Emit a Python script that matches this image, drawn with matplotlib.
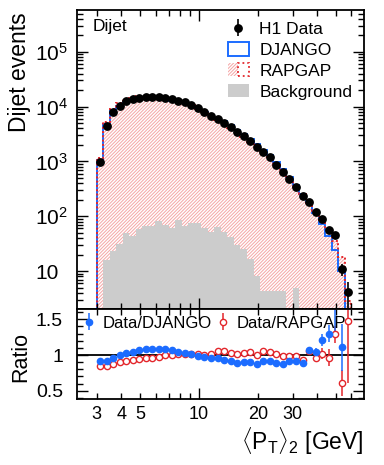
import numpy as np
import matplotlib
matplotlib.use('Agg')
import matplotlib.pyplot as plt
from matplotlib.ticker import FixedLocator, LogLocator, FuncFormatter, MultipleLocator, NullFormatter
from matplotlib.patches import Patch
from matplotlib.legend_handler import HandlerTuple

plt.rcParams['font.family'] = ['Liberation Sans', 'DejaVu Sans']
plt.rcParams['mathtext.fontset'] = 'custom'
plt.rcParams['mathtext.rm'] = 'Liberation Sans'
plt.rcParams['mathtext.it'] = 'Liberation Sans:italic'
plt.rcParams['hatch.linewidth'] = 0.7

# bin edges in <pT>_2 [GeV] (log-spaced bins)
edges = [3.00, 3.24, 3.50, 3.78, 4.08, 4.40, 4.76, 5.14, 5.55, 5.99,
         6.47, 6.98, 7.54, 8.14, 8.79, 9.50, 10.25, 11.07, 11.96, 12.91,
         13.94, 15.06, 16.26, 17.56, 18.96, 20.47, 22.11, 23.87, 25.78, 27.84,
         30.06, 32.46, 35.05, 37.85, 40.87, 44.13, 47.66, 51.46, 55.57, 60.00]

# H1 data (events per bin)
data = [990, 4480, 7870, 10400, 12500, 13600, 14500, 14950, 14950, 14800,
        14370, 13600, 12800, 11970, 10840, 9330, 7940, 6820, 5940, 5020,
        4190, 3400, 2870, 2330, 1810, 1470, 1190, 860, 632, 477,
        336, 231, 184, 121, 89, 56, 45, 10.9, 4.1]
data_err = [15, 30, 40, 50, 55, 60, 60, 60, 60, 60,
            60, 60, 55, 55, 50, 45, 40, 40, 35, 30,
            30, 25, 25, 20, 18, 16, 14, 12, 10, 9,
            8, 8, 8, 7, 7, 6, 6, 2.8, 2.3]

# MC predictions
django = [1076, 4870, 8200, 10400, 12140, 13010, 13550, 13840, 13840, 13700,
          13240, 12710, 12250, 11680, 10730, 9420, 8140, 7070, 6190, 5430,
          4580, 3800, 3190, 2590, 2080, 1615, 1308, 961, 722, 524,
          369, 258, 173, 116, 73.6, 43, 23.7, 9.8, 0]
rapgap = [1165, 5300, 8940, 11560, 13590, 14550, 15340, 15650, 15490, 15260,
          14370, 13600, 12670, 11850, 10730, 9240, 7940, 6750, 5630, 4760,
          4050, 3350, 2770, 2230, 1810, 1393, 1139, 847, 638, 484,
          339, 250, 174, 127, 87, 58, 35, 17.9, 2.8]
background = [0, 16, 23.5, 31, 48.7, 44, 58, 65, 67, 82,
              69, 60, 86, 67, 74, 74, 60, 51, 63, 51,
              41, 30, 25, 16.5, 8.2, 4.4, 4.4, 4.4, 4.4, 0,
              4.8, 0, 0, 0, 0, 0, 0, 0, 0]

# ratio panel
ratio_django = [0.92, 0.92, 0.96, 1.0, 1.03, 1.045, 1.07, 1.08, 1.08, 1.08,
                1.085, 1.07, 1.045, 1.025, 1.01, 0.99, 0.975, 0.965, 0.96, 0.925,
                0.915, 0.895, 0.9, 0.9, 0.87, 0.91, 0.91, 0.895, 0.875, 0.91,
                0.91, 0.895, 1.065, 1.045, 1.21, 1.3, 1.9, 1.11, np.nan]
ratio_django_err = [0.015, 0.01, 0.01, 0.01, 0.01, 0.01, 0.01, 0.01, 0.01, 0.01,
                    0.01, 0.01, 0.01, 0.01, 0.01, 0.01, 0.01, 0.01, 0.01, 0.01,
                    0.01, 0.01, 0.01, 0.01, 0.012, 0.014, 0.015, 0.016, 0.018, 0.02,
                    0.025, 0.035, 0.045, 0.06, 0.09, 0.12, 0.62, 0.33, np.nan]
ratio_rapgap = [0.85, 0.845, 0.88, 0.9, 0.92, 0.935, 0.945, 0.955, 0.965, 0.97,
                1.0, 1.0, 1.01, 1.01, 1.01, 1.01, 1.0, 1.01, 1.055, 1.055,
                1.035, 1.015, 1.035, 1.045, 1.0, 1.055, 1.045, 1.015, 0.99, 0.985,
                0.99, 0.925, 1.055, 0.955, 1.02, 0.96, 1.29, 0.61, 1.48]
ratio_rapgap_err = [0.015, 0.01, 0.01, 0.01, 0.01, 0.01, 0.01, 0.01, 0.01, 0.01,
                    0.01, 0.01, 0.01, 0.01, 0.01, 0.01, 0.01, 0.01, 0.01, 0.01,
                    0.01, 0.01, 0.01, 0.01, 0.012, 0.014, 0.015, 0.016, 0.018, 0.02,
                    0.025, 0.035, 0.045, 0.055, 0.08, 0.12, 0.12, 0.18, 0.87]

blue = '#1c6cff'
red = '#e3262b'
hatch_col = '#f4a6a6'
grey = '#cccccc'

centers = np.sqrt(np.array(edges[:-1]) * np.array(edges[1:]))
base = 1e-2  # below the visible range of the log axis

fig = plt.figure(figsize=(3.84, 4.65), dpi=100)
ax = fig.add_axes([0.2005, 0.3348, 0.7474, 0.6437])
rax = fig.add_axes([0.2005, 0.1413, 0.7474, 0.1935], sharex=ax)

# ---- top panel
ax.stairs(np.clip(rapgap, base, None), edges, baseline=base, fill=True,
          facecolor='none', edgecolor=hatch_col, hatch='//////////', linewidth=0)
ax.stairs(np.clip(background, base, None), edges, baseline=base, fill=True,
          color=grey, linewidth=0)
ax.stairs(np.clip(django, base, None), edges, baseline=base, color=blue, linewidth=1.4)
ax.stairs(np.clip(rapgap, base, None), edges, baseline=base, color=red,
          linewidth=1.4, linestyle=(0, (1.0, 1.2)))
hdata = ax.errorbar(centers, data, yerr=data_err, fmt='o', color='k', ms=5.3,
                    elinewidth=1.2, capsize=0)

ax.set_xscale('log')
ax.set_yscale('log')
ax.set_xlim(2.38, 69.5)
ax.set_ylim(2.0, 5.8e5)

ax.yaxis.set_major_locator(FixedLocator([10, 1e2, 1e3, 1e4, 1e5]))
ax.yaxis.set_major_formatter(FuncFormatter(
    lambda v, p: '10' if v == 10 else r'$\mathregular{10^{%d}}$' % round(np.log10(v))))
ax.yaxis.set_minor_locator(LogLocator(base=10, subs=np.arange(2, 10), numticks=20))
ax.yaxis.set_minor_formatter(NullFormatter())

ax.xaxis.set_major_locator(FixedLocator([10]))
ax.xaxis.set_minor_locator(FixedLocator([3, 4, 5, 6, 7, 8, 9, 20, 30, 40, 50, 60]))
ax.xaxis.set_major_formatter(FuncFormatter(lambda v, p: '%g' % v))
ax.xaxis.set_minor_formatter(FuncFormatter(
    lambda v, p: '%g' % v if round(v) in (3, 4, 5, 20, 30) else ''))

for a in (ax, rax):
    a.tick_params(which='both', direction='in', top=True, right=True, width=1)
    a.tick_params(which='major', length=8, labelsize=13)
    a.tick_params(which='minor', length=4, labelsize=13)
    for s in a.spines.values():
        s.set_linewidth(1.3)

ax.tick_params(axis='x', which='both', labelbottom=False)
ax.tick_params(axis='y', which='major', pad=30, labelsize=15)
plt.setp(ax.get_yticklabels(), ha='left')

ax.set_ylabel('Dijet events', fontsize=16.5, ha='right')
ax.yaxis.set_label_coords(-0.160, 0.993)
ax.text(0.055, 0.945, 'Dijet', transform=ax.transAxes, fontsize=12.5, va='center')

rap_handle = (Patch(facecolor='white', edgecolor=hatch_col, hatch='//////////', linewidth=0),
              Patch(facecolor='none', edgecolor=red, linestyle=':', linewidth=1.3))
handles = [hdata,
           Patch(facecolor='white', edgecolor=blue, linewidth=1.4),
           rap_handle,
           Patch(facecolor=grey, edgecolor='none')]
labels = ['H1 Data', 'DJANGO', 'RAPGAP', 'Background']
ax.legend(handles, labels, loc='upper left', bbox_to_anchor=(0.526, 0.962),
          frameon=False, fontsize=12.5, handlelength=1.2, handleheight=0.8,
          handletextpad=0.6, labelspacing=0.3, borderpad=0, borderaxespad=0,
          handler_map={tuple: HandlerTuple(ndivide=None, pad=0)})

# ---- ratio panel
rax.axhline(1, color='k', linewidth=1.3)
hrg = rax.errorbar(centers, ratio_rapgap, yerr=ratio_rapgap_err, fmt='o', color=red,
                   mfc='white', mec=red, ms=4.5, mew=1, elinewidth=1.1, capsize=0)
hdj = rax.errorbar(centers, ratio_django, yerr=ratio_django_err, fmt='o', color=blue,
                   ms=4.5, elinewidth=1.1, capsize=0)
rax.set_ylim(0.38, 1.64)
rax.yaxis.set_major_locator(FixedLocator([0.5, 1, 1.5]))
rax.yaxis.set_major_formatter(FuncFormatter(lambda v, p: '%g' % v))
rax.yaxis.set_minor_locator(MultipleLocator(0.1))
rax.tick_params(axis='y', which='major', pad=10, labelsize=14)
rax.tick_params(axis='x', which='both', pad=5)

rax.set_ylabel('Ratio', fontsize=15.5)
rax.yaxis.set_label_coords(-0.160, 0.47)
rax.set_xlabel(r'$\langle\mathrm{P}_{\mathrm{T}}\rangle_{2}$ [GeV]', fontsize=16.5)
rax.xaxis.set_label_coords(1.0, -0.30)
rax.xaxis.label.set_ha('right')

rax.legend([hdj, hrg], ['Data/DJANGO', 'Data/RAPGAP'], loc='upper left',
           bbox_to_anchor=(0.018, 0.93), ncol=2, frameon=False, fontsize=12,
           handlelength=0.8, handletextpad=0.4, columnspacing=0.3,
           borderpad=0, borderaxespad=0)

fig.savefig('out.png', dpi=100)
